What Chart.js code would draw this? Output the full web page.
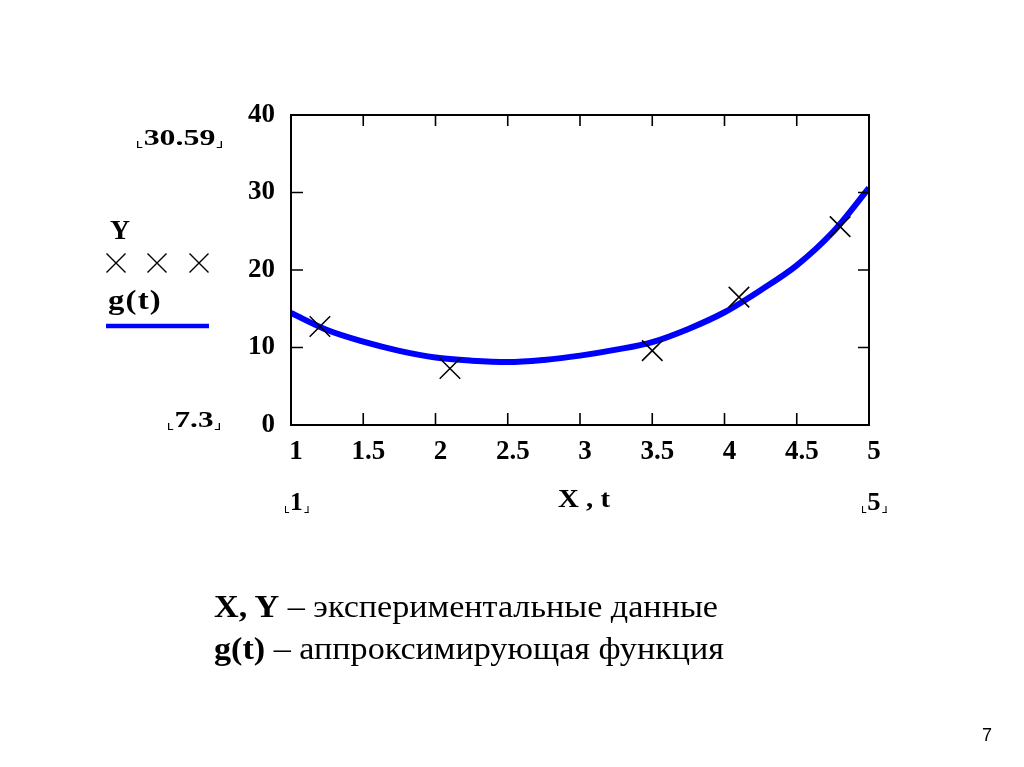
<!DOCTYPE html>
<html>
<head>
<meta charset="utf-8">
<script src="https://cdn.jsdelivr.net/npm/chart.js@4.4.1/dist/chart.umd.min.js"></script>
<style>
  html, body { margin:0; padding:0; background:#fff; }
  #wrap { position:relative; width:1024px; height:767px; overflow:hidden; background:#fff; }
  #c { position:absolute; left:0; top:0; }
  .t { position:absolute; white-space:nowrap; color:#000; font-family:"Liberation Serif","Times New Roman",serif; line-height:1; transform-origin:0 0; }
  .b { font-weight:bold; }
  .bl, .br { display:inline-block; width:3px; height:6px; border-bottom:1.3px solid #000; vertical-align:-3px; }
  .bl { border-left:1.3px solid #000; margin-right:1px; }
  .br { border-right:1.3px solid #000; margin-left:1px; }
</style>
</head>
<body>
<div id="wrap">
  <canvas id="c" width="1024" height="767"></canvas>
  <div class="t b" data-w="85" style="left:137px; top:125px; font-size:24px;"><span class="bl"></span>30.59<span class="br"></span></div>
  <div class="t b" data-w="20" style="left:110px; top:217px; font-size:27px;">Y</div>
  <div class="t b" data-w="54" style="left:108px; top:287px; font-size:27px; letter-spacing:1px;">g(t)</div>
  <div class="t b" data-w="52" style="left:168px; top:407px; font-size:24px;"><span class="bl"></span>7.3<span class="br"></span></div>
  <div class="t b" data-w="23" style="left:285px; top:489px; font-size:25px;"><span class="bl"></span>1<span class="br"></span></div>
  <div class="t b" data-w="52" style="left:558px; top:486px; font-size:25px;">X , t</div>
  <div class="t b" data-w="24" style="left:862px; top:489px; font-size:25px;"><span class="bl"></span>5<span class="br"></span></div>
  <div class="t" data-w="504" style="left:214px; top:591px; font-size:31px;"><b>X, Y</b> – экспериментальные данные</div>
  <div class="t" data-w="510" style="left:214px; top:633px; font-size:31px;"><b>g(t)</b> – аппроксимирующая функция</div>
  <div class="t" style="left:982px; top:726px; font-size:18px; font-family:'Liberation Sans',Arial,sans-serif;">7</div>
</div>
<script>
// Experimental data (X, Y)
const X = [1.2, 2.1, 3.5, 4.1, 4.8];
const Y = [12.7, 7.3, 9.6, 16.5, 25.6];
// Approximating function g(t)
const T = [1, 1.25, 1.5, 1.75, 2, 2.25, 2.5, 2.75, 3, 3.25, 3.5, 3.75, 4, 4.25, 4.5, 4.75, 5];
const G = [14.45, 12.25, 10.75, 9.57, 8.7, 8.3, 8.12, 8.4, 8.95, 9.72, 10.7, 12.4, 14.55, 17.4, 20.6, 24.9, 30.59];
// Axis ranges / ticks
const X_MIN = 1, X_MAX = 5, X_STEP = 0.5;
const Y_MIN = 0, Y_MAX = 40, Y_STEP = 10;

function fitTexts() {
  document.querySelectorAll('.t[data-w]').forEach(el => {
    el.style.transform = 'none';
    const w = el.getBoundingClientRect().width;
    const target = parseFloat(el.dataset.w);
    if (w > 0) el.style.transform = 'scaleX(' + (target / w) + ')';
  });
}
fitTexts();
if (document.fonts && document.fonts.ready) document.fonts.ready.then(fitTexts);

const tickFont = { family: '"Liberation Serif","Times New Roman",serif', weight: 'bold', size: 27 };

const framePlugin = {
  id: 'framePlugin',
  afterDatasetsDraw(chart) {
    const { ctx, chartArea: a, scales } = chart;
    ctx.save();
    ctx.strokeStyle = '#000';
    ctx.lineWidth = 1.6;
    ctx.beginPath();
    scales.x.ticks.forEach(tk => {
      const px = scales.x.getPixelForValue(tk.value);
      ctx.moveTo(px, a.bottom); ctx.lineTo(px, a.bottom - 12);
      ctx.moveTo(px, a.top); ctx.lineTo(px, a.top + 11);
    });
    scales.y.ticks.forEach(tk => {
      const py = scales.y.getPixelForValue(tk.value);
      ctx.moveTo(a.left, py); ctx.lineTo(a.left + 12, py);
      ctx.moveTo(a.right, py); ctx.lineTo(a.right - 11, py);
    });
    ctx.stroke();
    ctx.lineWidth = 2;
    ctx.strokeRect(a.left, a.top, a.right - a.left, a.bottom - a.top);
    // legend glyphs (left side)
    ctx.lineWidth = 1.4;
    ctx.beginPath();
    [116, 157, 199].forEach(cx => {
      const cy = 263, h = 9.5;
      ctx.moveTo(cx - h, cy - h); ctx.lineTo(cx + h, cy + h);
      ctx.moveTo(cx - h, cy + h); ctx.lineTo(cx + h, cy - h);
    });
    ctx.stroke();
    ctx.strokeStyle = '#0000ff';
    ctx.lineWidth = 4.5;
    ctx.beginPath();
    ctx.moveTo(106, 326); ctx.lineTo(209, 326);
    ctx.stroke();
    ctx.restore();
  }
};

new Chart(document.getElementById('c'), {
  type: 'scatter',
  data: {
    datasets: [
      {
        label: 'Y',
        data: X.map((x, i) => ({ x, y: Y[i] })),
        showLine: false,
        pointStyle: 'crossRot',
        pointRadius: 14.5,
        pointHoverRadius: 14.5,
        borderColor: '#000',
        backgroundColor: '#000',
        borderWidth: 1.5
      },
      {
        label: 'g(t)',
        data: T.map((t, i) => ({ x: t, y: G[i] })),
        showLine: true,
        pointRadius: 0,
        borderColor: '#0000ff',
        borderWidth: 6,
        cubicInterpolationMode: 'monotone',
        fill: false
      }
    ]
  },
  options: {
    responsive: false,
    animation: false,
    events: [],
    layout: { padding: { left: 0, top: 115, right: 155, bottom: 302 } },
    plugins: { legend: { display: false }, tooltip: { enabled: false }, title: { display: false } },
    scales: {
      x: {
        type: 'linear', min: X_MIN, max: X_MAX,
        grid: { display: false, drawTicks: false },
        border: { display: false },
        ticks: { stepSize: X_STEP, color: '#000', font: tickFont, padding: 11, labelOffset: 5, maxRotation: 0, autoSkip: false,
                 callback: v => String(v) },
        afterFit(s) { s.height = 40; }
      },
      y: {
        type: 'linear', min: Y_MIN, max: Y_MAX,
        grid: { display: false, drawTicks: false },
        border: { display: false },
        ticks: { stepSize: Y_STEP, color: '#000', font: tickFont, padding: 16, callback: v => String(v) },
        afterFit(s) { s.width = 291; }
      }
    }
  },
  plugins: [framePlugin]
});
</script>
</body>
</html>
